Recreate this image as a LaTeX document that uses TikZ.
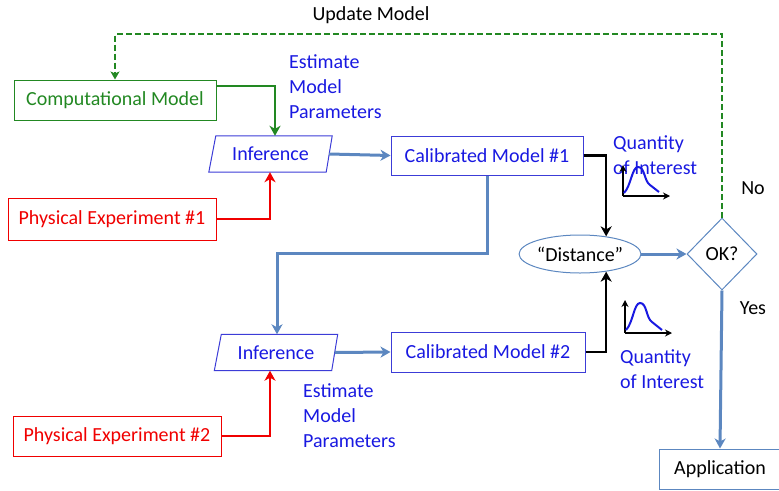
\documentclass[tikz,border=0pt]{standalone}
\usepackage{fontspec}
\setmainfont{Carlito}
\usetikzlibrary{shapes.geometric,arrows.meta}
\definecolor{cgreen}{RGB}{34,136,34}
\definecolor{cred}{RGB}{240,0,0}
\definecolor{cblue}{RGB}{25,25,225}
\definecolor{bborder}{RGB}{60,60,215}
\definecolor{steel}{RGB}{92,135,192}
\begin{document}
\begin{tikzpicture}[x=1pt,y=-1pt,
  font=\fontsize{20}{25}\selectfont,
  box/.style={rectangle, draw, inner sep=0pt, line width=1pt},
  para/.style={rectangle, inner sep=0pt, minimum width=123pt, minimum height=36pt, text=cblue},
  lbl/.style={align=left, anchor=north west, inner sep=0pt, text=cblue},
  tip/.style={-{Stealth[length=10pt,width=11pt,inset=3pt]}},
  conn/.style={line width=2.6pt},
  bconn/.style={line width=3pt, draw=steel, tip},
]
\useasboundingbox (0,0) rectangle (779,490);

% nodes
\node[box, draw=cgreen, text=cgreen, minimum width=202pt, minimum height=40pt] (comp) at (115,100) {Computational Model};
\node[para] (inf1) at (270.5,154) {Inference};
\draw[bborder, line width=1pt] ([xshift=7pt]inf1.north west) -- (inf1.north east) -- ([xshift=-6pt]inf1.south east) -- (inf1.south west) -- cycle;
\node[box, draw=bborder, text=cblue, minimum width=192pt, minimum height=39pt] (cal1) at (487,155.5) {Calibrated Model \#1};
\node[box, draw=cred, text=cred, minimum width=208pt, minimum height=42pt] (pe1) at (112,219) {Physical Experiment \#1};
\node[ellipse, draw=steel, line width=1pt, inner sep=0pt, minimum width=108pt, minimum height=38pt] (dist) at (580,254) {“Distance”};
\node[diamond, draw=steel, line width=1pt, inner sep=0pt, minimum width=70pt, minimum height=72pt] (ok) at (722,254) {OK?};
\node[para] (inf2) at (276,352.5) {Inference};
\draw[bborder, line width=1pt] ([xshift=7pt]inf2.north west) -- (inf2.north east) -- ([xshift=-6pt]inf2.south east) -- (inf2.south west) -- cycle;
\node[box, draw=bborder, text=cblue, minimum width=194pt, minimum height=40pt] (cal2) at (488,352) {Calibrated Model \#2};
\node[box, draw=cred, text=cred, minimum width=208pt, minimum height=40pt] (pe2) at (117,436) {Physical Experiment \#2};
\node[box, draw=steel, minimum width=122pt, minimum height=40pt] (app) at (720,469) {Application};

% labels
\node[anchor=center, inner sep=0pt] (upd) at (371,15) {Update Model};
\node[lbl] (est1) at (289,54) {Estimate\\Model\\Parameters};
\node[lbl] (est2) at (303,383) {Estimate\\Model\\Parameters};
\node[lbl] (qoi1) at (613,135) {Quantity\\of Interest};
\node[lbl] (qoi2) at (620,349) {Quantity\\of Interest};
\node[anchor=center, inner sep=0pt] (no) at (753,188) {No};
\node[anchor=center, inner sep=0pt] (yes) at (753,308) {Yes};

% connectors
\coordinate (c1) at (275,86);
\draw[conn, cgreen, tip] (comp.east |- c1) -| (inf1.north -| c1);
\coordinate (c2) at (270,0);
\draw[conn, cred, tip] (pe1.east) -| (inf1.south -| c2);
\draw[bconn] ([xshift=-3pt]inf1.east) -- (cal1.west);
\coordinate (c3) at (277,253);
\draw[bconn] (cal1.south) |- (c3) -- (inf2.north -| c3);
\draw[conn, cred, tip] (pe2.east) -| (inf2.south -| c2);
\draw[bconn] ([xshift=-3pt]inf2.east) -- (cal2.west);
\draw[conn, black, tip] (cal1.east) -| (dist.34);
\draw[conn, black, tip] (cal2.east) -| (dist.-34);
\draw[bconn] (dist.east) -- (ok.west);
\draw[bconn] (ok.south) -- (app.north);
\coordinate (c4) at (0,34);
\draw[conn, cgreen, dash pattern=on 6pt off 3pt, -{Stealth[length=8pt,width=9pt,inset=2pt]}] (ok.north) |- (c4 -| comp.north) -- (comp.north);

% mini plots
\begin{scope}[line width=2pt, -{Stealth[length=7pt,width=7pt]}]
\coordinate (o1) at (623,196);
\draw (o1) -- ++(0,-31);
\draw (o1) -- ++(47,0);
\coordinate (o2) at (625,333);
\draw (o2) -- ++(0,-33);
\draw (o2) -- ++(47,0);
\end{scope}
\draw[cblue, line width=2pt] (624,193) .. controls (631,186) and (632,167) .. (638,167) .. controls (645,167) and (644,181) .. (650,185) -- (659,192);
\draw[cblue, line width=2pt] (626,330) .. controls (633,323) and (634,303) .. (640,303) .. controls (647,303) and (646,318) .. (652,322) -- (662,330);
\end{tikzpicture}
\end{document}
